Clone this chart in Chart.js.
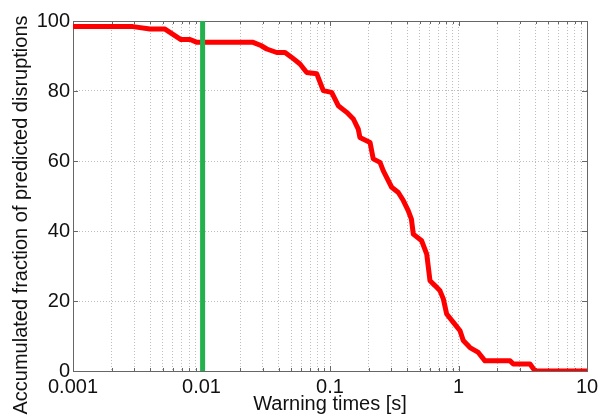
<!DOCTYPE html>
<html>
<head>
<meta charset="utf-8">
<script src="https://cdn.jsdelivr.net/npm/chart.js@4/dist/chart.umd.min.js"></script>
<style>
  html, body { margin: 0; padding: 0; background: #fff; }
  #wrap { width: 606px; height: 420px; }
</style>
</head>
<body>
<div id="wrap"><canvas id="chart"></canvas></div>
<script>
// warning time [s] and accumulated fraction [%]
const warningTimes = [0.001, 0.00293, 0.00397, 0.0052, 0.00692, 0.00815, 0.00923, 0.0252, 0.029, 0.0322,
  0.0385, 0.0447, 0.0504, 0.0584, 0.0659, 0.0789, 0.0887, 0.103, 0.116, 0.135,
  0.152, 0.166, 0.171, 0.205, 0.217, 0.245, 0.26, 0.302, 0.34, 0.372,
  0.406, 0.43, 0.445, 0.517, 0.566, 0.6, 0.656, 0.718, 0.762, 0.809,
  0.912, 1.028, 1.089, 1.228, 1.426, 1.607, 2.52, 2.67, 3.6, 3.94, 10];
const fraction = [98.4, 98.4, 97.7, 97.7, 94.7, 94.7, 93.9, 93.9, 93.0, 92.0,
  91.0, 91.0, 89.6, 87.7, 85.3, 84.9, 80.1, 79.6, 75.8, 73.9,
  72.0, 69.1, 66.7, 65.3, 60.6, 59.6, 57.2, 52.5, 51.0, 48.7,
  45.8, 43.4, 39.1, 37.2, 33.4, 25.8, 24.4, 22.9, 20.6, 16.3,
  13.9, 11.5, 8.7, 6.7, 5.3, 2.9, 2.9, 2.0, 2.0, 0, 0];

// vertical marker (green)
const markerTimes = [0.0102, 0.0102];
const markerFraction = [0, 100];

const xMajorTicks = [0.001, 0.01, 0.1, 1, 10];
const xTickLabels = ['0.001', '0.01', '0.1', '1', '10'];
const yTicks = [0, 20, 40, 60, 80, 100];

const xTitle = 'Warning times [s]';
const yTitle = 'Accumulated fraction of predicted disruptions';

// all log grid positions: decades plus 2..9 in between
let xGridTicks = [];
for (let i = 0; i < xMajorTicks.length; i++) {
  xGridTicks.push(xMajorTicks[i]);
  if (i < xMajorTicks.length - 1) {
    for (let m = 2; m <= 9; m++) xGridTicks.push(m * xMajorTicks[i]);
  }
}

const font = "'Liberation Sans', Arial, sans-serif";
const frameColor = '#666';

// box around the plot with inward ticks, like the matlab axes
const framePlugin = {
  id: 'frame',
  beforeDatasetsDraw(chart) {
    const {ctx, chartArea: a, scales} = chart;
    ctx.save();
    ctx.strokeStyle = frameColor;
    ctx.lineWidth = 1;
    ctx.beginPath();
    xGridTicks.forEach(v => {
      const px = Math.round(scales.x.getPixelForValue(v)) + 0.5;
      const len = xMajorTicks.includes(v) ? 5 : 3;
      ctx.moveTo(px, a.bottom); ctx.lineTo(px, a.bottom - len);
      ctx.moveTo(px, a.top); ctx.lineTo(px, a.top + len);
    });
    yTicks.forEach(v => {
      const py = Math.round(scales.y.getPixelForValue(v)) + 0.5;
      ctx.moveTo(a.left, py); ctx.lineTo(a.left + 5, py);
      ctx.moveTo(a.right, py); ctx.lineTo(a.right - 5, py);
    });
    ctx.stroke();
    ctx.strokeRect(Math.round(a.left) + 0.5, Math.round(a.top) + 0.5,
      Math.round(a.right - a.left), Math.round(a.bottom - a.top));
    ctx.restore();
  },
  afterDraw(chart) {
    const ctx = chart.ctx;
    ctx.save();
    ctx.translate(27, 215);
    ctx.rotate(-Math.PI / 2);
    ctx.font = '20px ' + font;
    ctx.fillStyle = '#111';
    ctx.textAlign = 'center';
    ctx.textBaseline = 'alphabetic';
    ctx.fillText(yTitle, 0, 0);
    ctx.restore();
  }
};

new Chart(document.getElementById('chart'), {
  type: 'line',
  data: {
    datasets: [
      {
        data: markerTimes.map((x, i) => ({x: x, y: markerFraction[i]})),
        borderColor: '#22b14c',
        borderWidth: 5,
        borderCapStyle: 'butt',
        pointRadius: 0
      },
      {
        data: warningTimes.map((x, i) => ({x: x, y: fraction[i]})),
        borderColor: '#ff0000',
        borderWidth: 5,
        borderJoinStyle: 'round',
        pointRadius: 0,
        tension: 0
      }
    ]
  },
  options: {
    responsive: true,
    maintainAspectRatio: false,
    animation: false,
    layout: {padding: {top: 21, right: 19, left: 0, bottom: 0}},
    plugins: {legend: {display: false}, tooltip: {enabled: false}},
    scales: {
      x: {
        type: 'logarithmic',
        min: 0.001,
        max: 10,
        afterBuildTicks(scale) {
          scale.ticks = xGridTicks.map(v => ({value: v}));
        },
        afterFit(scale) { scale.height = 49; },
        ticks: {
          autoSkip: false,
          maxRotation: 0,
          padding: 4,
          color: '#111',
          font: {family: font, size: 20},
          callback(value) {
            const i = xMajorTicks.indexOf(value);
            return i >= 0 ? xTickLabels[i] : '';
          }
        },
        grid: {color: '#bdbdbd', drawTicks: false},
        border: {display: false, dash: [1, 2]},
        title: {
          display: true,
          text: xTitle,
          color: '#111',
          font: {family: font, size: 20},
          padding: {top: 0, bottom: 4}
        }
      },
      y: {
        min: 0,
        max: 100,
        afterBuildTicks(scale) {
          scale.ticks = yTicks.map(v => ({value: v}));
        },
        afterFit(scale) { scale.width = 73; },
        ticks: {
          padding: 3,
          color: '#111',
          font: {family: font, size: 20}
        },
        grid: {color: '#bdbdbd', drawTicks: false},
        border: {display: false, dash: [1, 2]}
      }
    }
  },
  plugins: [framePlugin]
});
</script>
</body>
</html>
